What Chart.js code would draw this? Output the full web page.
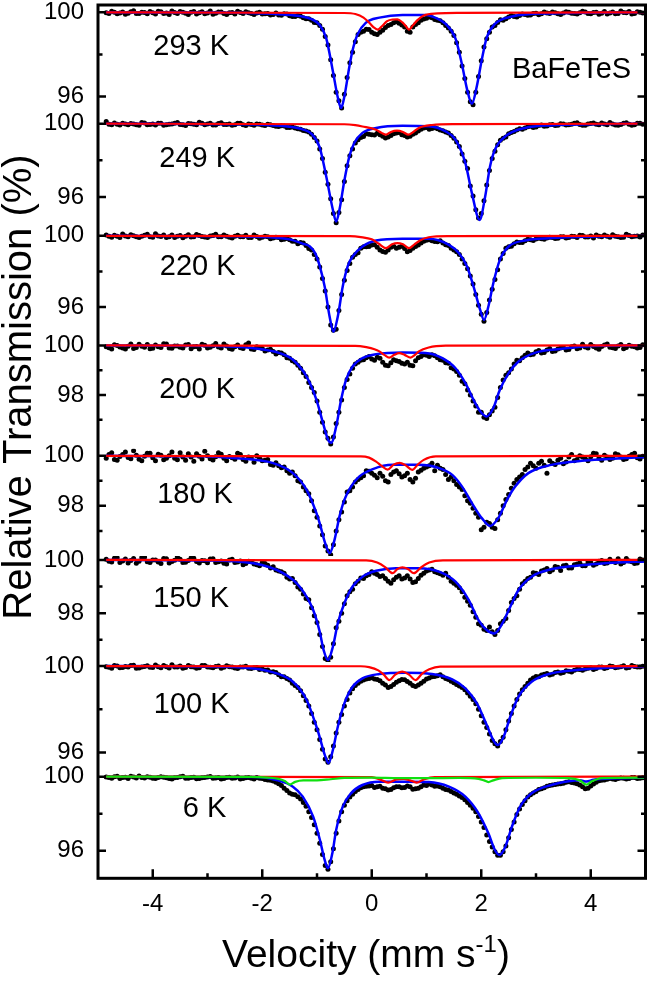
<!DOCTYPE html>
<html>
<head>
<meta charset="utf-8">
<script src="https://cdn.jsdelivr.net/npm/chart.js@4.4.1/dist/chart.umd.min.js"></script>
<style>
  html, body { margin: 0; padding: 0; background: #fff; }
  canvas { display: block; }
</style>
</head>
<body>
<canvas id="spectra" width="650" height="982"></canvas>
<script>
// Mossbauer spectra of BaFeTeS, stacked by temperature
// channels are read on two interleaved velocity grids
const velocity = [
  -4.85,-4.75,-4.65,-4.55,-4.45,-4.35,-4.25,-4.15,-4.05,-3.95,
  -3.85,-3.75,-3.65,-3.55,-3.45,-3.35,-3.25,-3.15,-3.05,-2.95,
  -2.85,-2.75,-2.65,-2.55,-2.45,-2.35,-2.25,-2.15,-2.05,-1.95,
  -1.85,-1.75,-1.65,-1.55,-1.45,-1.35,-1.25,-1.15,-1.05,-0.95,
  -0.85,-0.75,-0.65,-0.55,-0.45,-0.35,-0.25,-0.15,-0.05,0.05,
  0.15,0.25,0.35,0.45,0.55,0.65,0.75,0.85,0.95,1.05,
  1.15,1.25,1.35,1.45,1.55,1.65,1.75,1.85,1.95,2.05,
  2.15,2.25,2.35,2.45,2.55,2.65,2.75,2.85,2.95,3.05,
  3.15,3.25,3.35,3.45,3.55,3.65,3.75,3.85,3.95,4.05,
  4.15,4.25,4.35,4.45,4.55,4.65,4.75,4.85,4.95
];
const velocityMid = [
  -4.8,-4.7,-4.6,-4.5,-4.4,-4.3,-4.2,-4.1,-4.0,-3.9,
  -3.8,-3.7,-3.6,-3.5,-3.4,-3.3,-3.2,-3.1,-3.0,-2.9,
  -2.8,-2.7,-2.6,-2.5,-2.4,-2.3,-2.2,-2.1,-2.0,
  -1.9,-1.8,-1.7,-1.6,-1.5,-1.4,-1.3,-1.2,-1.1,-1.0,
  -0.9,-0.8,-0.7,-0.6,-0.5,-0.4,-0.3,-0.2,-0.1,0.0,
  0.1,0.2,0.3,0.4,0.5,0.6,0.7,0.8,0.9,1.0,
  1.1,1.2,1.3,1.4,1.5,1.6,1.7,1.8,1.9,2.0,
  2.1,2.2,2.3,2.4,2.5,2.6,2.7,2.8,2.9,3.0,
  3.1,3.2,3.3,3.4,3.5,3.6,3.7,3.8,3.9,4.0,
  4.1,4.2,4.3,4.4,4.5,4.6,4.7,4.8,4.9
];

const temperatures = ["293 K", "249 K", "220 K", "200 K", "180 K", "150 K", "100 K", "6 K"];
const xTickValues = [-4, -2, 0, 2, 4];

// measured transmission (%)
const trans293 = [
  99.98,100.05,99.93,100.02,99.96,100.08,99.95,99.99,100.04,99.92,
  100.03,99.97,100.06,99.94,100.01,99.9,100.04,99.98,99.93,100.07,
  99.96,100.02,99.9,99.99,100.05,99.94,99.98,99.9,100.01,99.93,
  99.88,99.97,99.86,99.92,99.8,99.85,99.74,99.7,99.52,99.38,
  98.85,97.75,96.2,95.45,96.9,98.1,98.95,99.1,99.18,98.98,
  99.05,99.28,99.42,99.55,99.4,99.1,99.3,99.5,99.68,99.78,
  99.66,99.6,99.38,99.1,98.55,97.45,96.2,95.6,96.95,98.35,
  99.05,99.38,99.65,99.7,99.85,99.78,99.92,99.86,99.95,99.89,
  100.02,99.94,99.98,99.9,100.03,99.96,99.92,100.05,99.95,99.99,
  99.91,100.04,99.97,99.93,100.06,99.98,99.92,100.03,99.97
];
const trans293Mid = [
  99.94,100.01,99.97,99.91,100.03,99.95,100.0,99.93,99.98,100.05,
  99.95,99.9,99.99,100.04,99.96,100.0,99.92,100.03,99.97,99.91,
  100.02,99.95,99.98,99.92,99.99,100.03,99.94,99.97,99.92,
  99.94,99.9,99.87,99.93,99.84,99.8,99.82,99.7,99.62,99.5,
  99.2,98.45,97.0,95.8,96.1,97.6,98.6,99.05,99.2,99.05,
  98.95,99.15,99.38,99.5,99.48,99.3,99.05,99.42,99.62,99.72,
  99.74,99.62,99.5,99.25,98.9,98.1,96.85,95.75,96.2,97.7,
  98.75,99.3,99.52,99.62,99.78,99.8,99.85,99.9,99.88,99.96,
  99.93,99.97,100.02,99.93,99.97,100.0,99.94,99.98,100.02,99.93,
  100.01,99.96,99.92,100.02,99.95,99.99,100.04,99.94,100.0
];
const trans249 = [
  100.12,99.95,99.97,100.03,99.94,99.99,99.92,100.04,99.96,99.93,
  100.02,99.95,99.99,100.06,99.94,100.01,99.97,100.08,99.95,100.02,
  99.93,100.05,99.96,99.91,100.03,99.95,99.99,99.92,99.97,99.9,
  99.95,99.86,99.89,99.8,99.82,99.72,99.63,99.55,99.25,98.62,
  97.35,95.9,94.6,95.85,97.7,98.62,99.12,99.3,99.42,99.38,
  99.4,99.22,99.35,99.5,99.4,99.28,99.42,99.6,99.76,99.7,
  99.78,99.66,99.55,99.35,99.0,98.35,97.55,96.05,94.85,95.8,
  97.45,98.5,99.1,99.28,99.52,99.66,99.7,99.84,99.8,99.9,
  99.86,99.95,99.9,100.0,99.93,99.97,100.05,99.92,99.98,100.04,
  99.94,99.99,100.07,99.93,99.96,100.05,99.91,100.02,99.97
];
const trans249Mid = [
  99.97,100.04,99.93,99.98,100.01,99.95,100.06,99.94,99.99,100.02,
  99.92,99.97,100.03,99.96,99.9,100.0,99.95,100.03,99.98,99.93,
  100.01,99.96,99.99,99.94,100.02,99.9,99.96,99.99,99.93,
  99.97,99.9,99.85,99.88,99.8,99.76,99.7,99.6,99.42,99.05,
  98.1,96.7,95.1,95.15,96.85,98.25,98.95,99.25,99.45,99.4,
  99.48,99.32,99.28,99.45,99.52,99.36,99.32,99.5,99.7,99.8,
  99.74,99.72,99.62,99.5,99.2,98.75,97.95,96.6,95.3,95.1,
  96.65,98.1,98.85,99.2,99.45,99.58,99.72,99.76,99.86,99.82,
  99.93,99.88,99.96,99.92,99.99,99.94,100.02,99.96,99.91,100.01,
  99.97,100.04,99.95,99.99,99.92,100.02,99.97,99.94,100.03
];
const trans220 = [
  100.05,99.92,99.97,100.1,99.94,100.0,99.9,100.03,99.95,100.12,
  99.96,99.91,100.04,99.98,99.89,100.06,99.95,100.02,99.93,99.99,
  100.08,99.94,99.97,99.88,100.03,99.95,99.9,100.05,99.86,99.97,
  99.84,99.92,99.78,99.85,99.7,99.55,99.6,99.28,98.95,98.25,
  96.9,95.0,94.75,96.7,98.05,98.8,99.05,99.38,99.4,99.5,
  99.2,99.08,99.35,99.3,99.42,99.1,99.3,99.48,99.7,99.78,
  99.68,99.72,99.5,99.3,99.1,98.7,98.15,97.3,96.1,95.2,
  96.4,97.55,98.7,99.3,99.42,99.65,99.62,99.8,99.74,99.86,
  99.8,99.92,99.85,99.95,99.88,99.98,99.9,100.02,99.93,99.87,
  99.97,100.05,99.92,99.98,99.9,100.08,99.95,99.99,100.04
];
const trans220Mid = [
  99.98,100.03,99.91,99.99,100.06,99.94,99.97,100.08,99.92,99.99,
  100.04,99.95,99.9,100.02,99.97,99.93,100.07,99.96,99.91,100.01,
  99.95,100.04,99.92,99.98,99.94,100.03,99.9,99.96,99.92,
  99.95,99.88,99.9,99.8,99.78,99.7,99.62,99.45,99.2,98.7,
  97.6,96.0,94.7,95.8,97.5,98.45,98.95,99.3,99.38,99.48,
  99.35,99.12,99.2,99.42,99.35,99.28,99.18,99.4,99.6,99.75,
  99.72,99.66,99.6,99.45,99.2,98.95,98.45,97.75,96.7,95.6,
  95.7,97.0,98.1,99.0,99.38,99.55,99.62,99.72,99.78,99.82,
  99.84,99.88,99.9,99.86,99.94,99.9,99.96,100.03,99.93,99.99,
  100.04,99.94,99.97,100.06,99.95,99.92,100.02,99.97,99.93
];
const trans200 = [
  99.95,99.86,100.0,99.9,99.97,99.88,100.05,99.93,99.87,100.02,
  99.92,100.06,99.89,99.98,99.9,100.04,99.95,99.86,100.01,99.93,
  100.08,99.9,99.98,99.85,100.02,99.88,100.1,99.84,99.92,99.78,
  99.85,99.66,99.7,99.5,99.38,99.2,98.9,98.5,98.1,97.3,
  96.5,96.02,96.85,97.8,98.62,99.08,99.32,99.42,99.55,99.4,
  99.48,99.2,99.3,99.38,99.28,99.32,99.18,99.5,99.62,99.55,
  99.58,99.42,99.3,99.1,98.95,98.55,98.2,97.75,97.3,97.1,
  97.2,97.5,98.3,98.8,99.05,99.4,99.5,99.7,99.65,99.8,
  99.72,99.88,99.78,99.9,99.82,99.95,99.87,100.05,99.9,99.96,
  99.85,100.02,99.93,99.88,100.04,99.92,99.97,99.9,100.03
];
const trans200Mid = [
  99.91,100.03,99.94,99.86,100.06,99.92,99.97,100.04,99.89,99.95,
  100.07,99.9,99.98,99.93,100.02,99.87,99.96,100.05,99.9,99.99,
  99.94,100.06,99.88,99.95,99.91,100.03,99.86,99.95,99.88,
  99.82,99.76,99.72,99.62,99.48,99.32,99.08,98.75,98.3,97.75,
  96.9,96.25,96.3,97.3,98.3,98.85,99.25,99.4,99.5,99.45,
  99.52,99.32,99.18,99.42,99.35,99.25,99.2,99.38,99.55,99.6,
  99.62,99.5,99.4,99.28,99.05,98.8,98.45,98.0,97.55,97.3,
  97.05,97.35,97.9,98.6,98.9,99.25,99.38,99.6,99.62,99.75,
  99.7,99.82,99.76,99.86,99.92,99.84,99.98,99.9,99.94,100.04,
  99.9,99.96,100.06,99.91,99.98,99.87,100.01,99.95,99.92
];
const trans180 = [
  99.9,100.12,99.82,100.05,99.93,100.2,99.86,99.98,100.1,99.8,
  100.02,99.9,100.15,99.84,99.95,100.08,99.78,99.98,100.18,99.88,
  99.96,100.06,99.8,99.92,100.1,99.85,99.95,99.74,99.9,99.82,
  99.65,99.72,99.52,99.4,99.35,99.0,98.75,98.48,97.8,97.2,
  96.4,96.05,97.0,97.75,98.55,98.75,99.05,99.2,99.38,99.22,
  99.3,99.0,99.25,99.4,99.15,99.3,98.95,99.35,99.5,99.6,
  99.4,99.5,99.25,99.15,98.85,98.65,98.2,97.9,97.55,97.15,
  97.3,97.1,97.7,98.25,98.7,99.05,99.25,99.55,99.6,99.7,
  99.62,99.8,99.65,99.9,99.75,100.05,99.85,99.95,99.8,100.1,
  99.9,100.02,99.85,100.08,99.95,99.88,100.05,99.92,99.98
];
const trans180Mid = [
  100.05,99.85,99.97,100.15,99.88,100.02,99.8,100.1,99.92,100.06,
  99.84,100.0,99.9,100.12,99.82,99.95,100.08,99.87,100.0,99.83,
  100.12,99.9,99.97,99.86,100.05,99.78,99.92,100.0,99.8,
  99.85,99.62,99.6,99.55,99.3,99.2,98.95,98.6,98.2,97.55,
  96.85,96.2,96.45,97.45,98.15,98.6,98.95,99.12,99.4,99.3,
  99.12,99.18,98.95,99.35,99.28,99.2,99.05,99.1,99.42,99.55,
  99.7,99.62,99.45,99.05,99.0,98.75,98.4,98.1,97.7,97.05,
  97.35,97.15,97.45,98.0,98.45,98.9,99.15,99.45,99.7,99.5,
  99.78,99.3,99.7,99.82,99.68,99.95,99.8,100.0,99.88,99.96,
  100.08,99.82,99.95,99.9,100.04,99.85,99.98,100.1,99.87
];
const trans150 = [
  100.02,99.92,100.08,99.96,99.88,100.05,99.95,100.1,99.9,100.0,
  99.86,100.04,99.94,100.12,99.9,99.98,100.06,99.88,99.97,100.03,
  99.9,99.96,99.85,100.02,99.92,99.82,99.95,99.85,99.78,99.86,
  99.7,99.62,99.55,99.35,99.3,98.98,98.72,98.5,97.9,97.2,
  96.3,96.35,97.45,98.0,98.65,98.9,99.2,99.3,99.45,99.5,
  99.38,99.3,99.12,99.35,99.28,99.4,99.15,99.3,99.5,99.62,
  99.55,99.48,99.5,99.2,99.05,98.8,98.45,98.05,97.6,97.4,
  97.48,97.2,97.6,97.8,98.4,98.65,99.1,99.3,99.52,99.45,
  99.62,99.55,99.75,99.6,99.8,99.7,99.85,99.78,99.92,99.8,
  99.95,99.86,100.02,99.9,99.85,100.05,99.93,99.88,100.0
];
const trans150Mid = [
  99.95,100.06,99.9,100.03,99.98,99.87,100.09,99.93,100.0,99.92,
  100.05,99.88,99.99,100.02,99.91,100.07,99.94,99.98,99.89,100.04,
  99.93,99.87,100.0,99.9,99.96,99.86,99.93,99.82,99.9,
  99.8,99.74,99.58,99.5,99.28,99.15,98.9,98.55,98.2,97.65,
  96.75,96.2,96.85,97.7,98.35,98.8,99.1,99.32,99.4,99.55,
  99.45,99.4,99.2,99.25,99.4,99.32,99.28,99.18,99.42,99.58,
  99.65,99.52,99.42,99.35,99.12,98.95,98.6,98.3,97.85,97.55,
  97.35,97.3,97.35,97.7,98.1,98.55,98.9,99.2,99.35,99.5,
  99.58,99.68,99.62,99.72,99.78,99.7,99.82,99.88,99.78,99.9,
  99.85,99.98,99.88,99.94,100.04,99.9,99.96,99.86,100.03
];
const trans100 = [
  99.97,99.9,100.0,99.93,99.96,100.04,99.91,99.98,99.94,100.05,
  99.92,99.97,100.06,99.95,99.9,100.02,99.96,99.92,100.03,99.94,
  99.98,99.9,100.01,99.95,99.88,99.96,99.9,99.92,99.84,99.8,
  99.72,99.7,99.5,99.42,99.2,99.0,98.62,98.15,97.4,96.6,
  95.7,95.8,96.9,97.75,98.45,98.95,99.2,99.35,99.42,99.4,
  99.32,99.12,99.05,99.25,99.38,99.28,99.1,99.12,99.3,99.45,
  99.52,99.6,99.42,99.3,99.15,99.0,98.75,98.45,98.0,97.4,
  96.85,96.4,96.5,97.05,97.8,98.45,98.9,99.2,99.45,99.5,
  99.62,99.58,99.7,99.66,99.78,99.72,99.85,99.8,99.9,99.84,
  99.95,99.88,100.0,99.92,99.97,99.91,100.03,99.95,99.99
];
const trans100Mid = [
  99.94,100.02,99.92,99.98,100.03,99.9,99.96,100.01,99.93,99.97,
  100.02,99.91,99.96,100.0,99.93,99.97,99.9,100.02,99.95,99.92,
  100.0,99.94,99.97,99.91,99.95,99.99,99.88,99.93,99.86,
  99.82,99.74,99.6,99.5,99.35,99.1,98.85,98.4,97.8,97.05,
  96.15,95.55,96.3,97.4,98.15,98.75,99.1,99.3,99.4,99.46,
  99.38,99.2,99.0,99.15,99.32,99.36,99.2,99.05,99.2,99.4,
  99.5,99.55,99.5,99.38,99.22,99.08,98.9,98.6,98.25,97.7,
  97.15,96.55,96.3,96.7,97.45,98.15,98.7,99.05,99.35,99.52,
  99.58,99.65,99.62,99.72,99.7,99.76,99.8,99.84,99.86,99.92,
  99.88,99.95,99.92,99.98,99.94,100.01,99.93,99.98,99.95
];
const trans6 = [
  99.98,99.92,100.02,99.95,99.9,99.98,100.03,99.93,99.97,99.9,
  100.0,99.94,99.88,99.96,100.02,99.92,99.97,99.9,99.95,100.01,
  99.93,99.88,99.96,99.91,99.98,99.9,99.95,99.88,99.92,99.85,
  99.8,99.7,99.52,99.25,99.05,98.92,98.6,98.1,97.4,96.4,
  95.2,95.4,96.95,98.1,98.7,99.05,99.3,99.45,99.5,99.42,
  99.48,99.35,99.3,99.45,99.4,99.5,99.32,99.38,99.55,99.6,
  99.48,99.45,99.3,99.2,99.05,98.88,98.6,98.3,97.85,97.25,
  96.5,95.95,95.75,96.25,97.15,97.95,98.5,98.9,99.12,99.3,
  99.4,99.52,99.58,99.62,99.7,99.68,99.62,99.45,99.38,99.6,
  99.78,99.82,99.9,99.85,99.93,99.88,99.96,99.9,99.94
];
const trans6Mid = [
  99.95,100.0,99.9,99.97,100.02,99.93,99.96,99.99,99.91,99.95,
  99.97,99.9,99.94,100.0,99.92,99.96,99.89,99.94,99.98,99.91,
  99.95,99.9,99.97,99.93,99.88,99.94,99.91,99.95,99.9,
  99.82,99.76,99.62,99.38,99.12,99.02,98.8,98.4,97.8,96.95,
  95.8,95.0,96.1,97.6,98.45,98.9,99.2,99.4,99.48,99.52,
  99.45,99.38,99.28,99.4,99.46,99.42,99.45,99.35,99.45,99.52,
  99.55,99.5,99.38,99.28,99.12,98.95,98.75,98.45,98.1,97.55,
  96.85,96.2,95.75,95.95,96.7,97.55,98.25,98.7,99.02,99.2,
  99.35,99.48,99.55,99.6,99.65,99.72,99.66,99.55,99.35,99.5,
  99.7,99.8,99.86,99.88,99.9,99.92,99.9,99.95,99.92
];

// main doublet fit (blue)
const mainX293 = [-4.85,-3.0,-2.1,-1.6,-1.3,-1.1,-0.95,-0.83,-0.71,-0.62,-0.56,-0.5,-0.41,-0.35,-0.26,-0.11,0.14,0.56,0.98,1.2,1.35,1.53,1.65,1.74,1.83,1.92,2.01,2.1,2.25,2.56,3.28,5.0];
const mainY293 = [100,99.99,99.96,99.9,99.82,99.68,99.4,98.75,97.2,95.95,95.45,96.0,97.4,98.2,98.95,99.5,99.75,99.88,99.87,99.7,99.45,98.75,97.5,96.35,95.65,96.5,97.75,98.8,99.45,99.8,99.95,100];
const mainX249 = [-4.85,-2.5,-1.9,-1.5,-1.25,-1.1,-0.95,-0.83,-0.71,-0.65,-0.59,-0.5,-0.41,-0.32,-0.17,0.08,0.56,1.04,1.35,1.53,1.71,1.83,1.97,2.07,2.16,2.25,2.44,2.8,3.3,4.0,5.0];
const mainY249 = [100,99.97,99.93,99.83,99.68,99.45,98.7,97.1,95.3,94.66,95.3,96.9,98.2,98.95,99.5,99.77,99.89,99.86,99.58,99.13,97.85,96.2,94.75,96.0,97.67,98.58,99.31,99.77,99.92,99.97,100];
const mainX220 = [-4.85,-2.5,-1.9,-1.5,-1.25,-1.13,-1.03,-0.95,-0.86,-0.77,-0.7,-0.62,-0.53,-0.44,-0.35,-0.17,0.08,0.56,1.04,1.41,1.59,1.74,1.86,1.98,2.05,2.13,2.22,2.34,2.5,2.8,3.28,4.0,5.0];
const mainY220 = [100,99.97,99.93,99.8,99.55,99.4,99.0,98.3,97.15,95.47,94.62,95.47,97.15,98.28,98.84,99.4,99.74,99.83,99.83,99.49,99.03,98.28,97.15,95.84,95.28,96.03,97.34,98.65,99.4,99.74,99.87,99.95,100];
const mainX200 = [-4.85,-2.9,-2.16,-1.68,-1.44,-1.19,-1.01,-0.89,-0.8,-0.74,-0.65,-0.56,-0.47,-0.35,-0.17,0.08,0.56,0.98,1.29,1.53,1.71,1.89,2.01,2.1,2.22,2.34,2.5,2.68,2.98,3.4,3.89,5.0];
const mainY200 = [100,99.98,99.89,99.69,99.42,98.74,97.8,96.86,96.2,96.07,96.72,97.8,98.61,99.15,99.49,99.65,99.72,99.7,99.49,99.08,98.48,97.67,97.26,97.13,97.47,98.21,98.88,99.35,99.7,99.85,99.96,100];
const mainX180 = [-4.85,-3.13,-2.53,-1.8,-1.44,-1.19,-1.01,-0.95,-0.85,-0.77,-0.68,-0.59,-0.5,-0.38,-0.23,0.02,0.38,0.86,1.23,1.47,1.65,1.83,2.01,2.16,2.31,2.47,2.62,2.86,3.28,3.89,4.49,5.0];
const mainY180 = [100,99.98,99.91,99.71,99.31,98.64,97.71,97.3,96.5,96.11,96.64,97.57,98.24,98.77,99.17,99.47,99.64,99.64,99.51,99.24,98.77,98.11,97.51,97.2,97.51,98.24,98.77,99.31,99.64,99.81,99.89,99.95];
const mainX150 = [-4.85,-3.1,-2.16,-1.62,-1.32,-1.07,-0.95,-0.88,-0.8,-0.71,-0.62,-0.5,-0.35,-0.17,0.08,0.44,0.86,1.23,1.53,1.77,1.95,2.1,2.24,2.37,2.53,2.68,2.92,3.28,3.89,4.49,5.0];
const mainY150 = [100,99.98,99.87,99.5,99.0,98.12,97.3,96.62,96.24,96.74,97.62,98.37,99.0,99.37,99.59,99.69,99.69,99.56,99.18,98.5,97.74,97.37,97.24,97.56,98.24,98.87,99.37,99.65,99.81,99.9,99.94];
const mainX100 = [-4.85,-3.13,-2.16,-1.74,-1.44,-1.19,-1.01,-0.95,-0.86,-0.79,-0.71,-0.62,-0.5,-0.35,-0.17,0.14,0.62,1.1,1.47,1.71,1.92,2.1,2.22,2.3,2.41,2.53,2.68,2.92,3.28,3.89,4.49,5.0];
const mainY100 = [100,99.98,99.89,99.66,99.27,98.43,97.19,96.7,95.9,95.5,96.11,97.19,98.27,99.04,99.43,99.63,99.69,99.63,99.38,98.97,98.27,97.27,96.57,96.34,96.73,97.65,98.58,99.27,99.66,99.85,99.94,99.97];
const mainX6 = [-4.85,-2.1,-1.74,-1.44,-1.26,-1.07,-0.95,-0.86,-0.8,-0.72,-0.65,-0.53,-0.38,-0.17,0.14,0.62,1.04,1.41,1.71,1.95,2.13,2.25,2.33,2.44,2.56,2.71,2.92,3.28,3.6,3.8,3.92,4.05,4.49,5.0];
const mainY6 = [100,99.98,99.82,99.46,98.92,97.84,96.62,95.5,95.05,95.86,97.12,98.38,99.1,99.55,99.73,99.73,99.71,99.46,98.92,98.02,96.94,96.04,95.77,96.22,97.3,98.38,99.1,99.55,99.75,99.8,99.74,99.83,99.91,99.96];

// minor doublet fit (red)
const subX293 = [-4.85,-0.5,-0.3,-0.15,-0.05,0.03,0.11,0.19,0.28,0.38,0.47,0.56,0.62,0.68,0.75,0.83,0.95,1.2,1.6,5.0];
const subY293 = [100,99.97,99.92,99.75,99.52,99.3,99.18,99.35,99.58,99.66,99.67,99.52,99.35,99.18,99.38,99.62,99.85,99.95,99.98,100];
const subX249 = [-4.85,-0.5,-0.3,-0.17,0.08,0.18,0.26,0.35,0.46,0.57,0.67,0.76,0.86,1.1,1.5,5.0];
const subY249 = [100,99.97,99.92,99.85,99.67,99.5,99.4,99.55,99.62,99.55,99.4,99.55,99.77,99.93,99.98,100];
const subX220 = [-4.85,-0.4,-0.2,0.0,0.13,0.26,0.37,0.47,0.57,0.68,0.78,0.88,1.04,1.4,5.0];
const subY220 = [100,99.98,99.93,99.8,99.55,99.31,99.52,99.59,99.52,99.31,99.52,99.74,99.92,99.98,100];
const subX200 = [-4.85,-0.3,-0.1,0.05,0.14,0.23,0.32,0.41,0.5,0.6,0.71,0.79,0.86,1.04,1.35,5.0];
const subY200 = [100,99.98,99.93,99.85,99.76,99.62,99.51,99.62,99.69,99.62,99.51,99.62,99.76,99.92,99.99,100];
const subX180 = [-4.85,-0.2,-0.05,0.08,0.18,0.29,0.4,0.51,0.62,0.74,0.84,0.95,1.17,5.0];
const subY180 = [100,99.98,99.93,99.77,99.6,99.45,99.65,99.72,99.62,99.44,99.65,99.84,99.98,100];
const subX150 = [-4.85,-0.1,0.1,0.25,0.38,0.47,0.56,0.66,0.77,0.9,1.05,1.3,5.0];
const subY150 = [100,99.98,99.9,99.72,99.5,99.66,99.72,99.66,99.5,99.72,99.9,99.98,100];
const subX100 = [-4.85,-0.2,-0.05,0.12,0.22,0.32,0.43,0.56,0.68,0.8,0.92,1.05,1.25,5.0];
const subY100 = [100,99.99,99.95,99.8,99.6,99.35,99.6,99.74,99.6,99.35,99.65,99.85,99.97,100];
const subX6 = [-4.85,0.0,0.15,0.3,0.45,0.58,0.7,0.82,0.95,1.15,5.0];
const subY6 = [100,99.98,99.85,99.68,99.85,99.88,99.8,99.68,99.85,99.97,100];

// magnetic sextet at 6 K (green)
const sextetX6 = [-4.85,-2.2,-1.9,-1.7,-1.58,-1.5,-1.4,-1.25,-1.0,-0.75,-0.5,0.0,0.5,1.0,1.6,1.95,2.05,2.13,2.22,2.38,3.0,3.6,3.8,3.92,4.02,4.2,5.0];
const sextetY6 = [100,99.99,99.95,99.88,99.75,99.57,99.72,99.8,99.8,99.86,99.93,99.95,99.92,99.92,99.93,99.88,99.8,99.71,99.8,99.92,99.94,99.92,99.8,99.57,99.75,99.92,99.95];

// axis ranges per panel (top to bottom)
const panelMin = [95.13, 94.32, 94.33, 95.82, 96.0, 96.17, 95.28, 94.51];
const panelMax = [100.35, 100.49, 100.45, 100.35, 100.28, 100.15, 100.19, 100.47];
const panelHeight = [109.7, 113, 109, 112, 107, 106, 106, 110.3];
const wideTicks = [96, 98, 100];
const narrowTicks = [97, 98, 99, 100];

// where the temperature labels sit (velocity, transmission)
const labelAt = [[-3.99, 97.99], [-3.88, 97.65], [-3.87, 97.81], [-3.88, 97.88],
                 [-3.92, 98.12], [-3.99, 98.23], [-3.98, 97.82], [-3.45, 97.82]];

const FONT = "'Liberation Sans', Arial, Helvetica, sans-serif";
Chart.defaults.font.family = FONT;
Chart.defaults.color = "#000";

function points(xs, ys) {
  return xs.map((x, i) => ({ x: x, y: ys[i] }));
}

const panels = [
  { trans: trans293, mid: trans293Mid, mx: mainX293, my: mainY293, sx: subX293, sy: subY293 },
  { trans: trans249, mid: trans249Mid, mx: mainX249, my: mainY249, sx: subX249, sy: subY249 },
  { trans: trans220, mid: trans220Mid, mx: mainX220, my: mainY220, sx: subX220, sy: subY220 },
  { trans: trans200, mid: trans200Mid, mx: mainX200, my: mainY200, sx: subX200, sy: subY200 },
  { trans: trans180, mid: trans180Mid, mx: mainX180, my: mainY180, sx: subX180, sy: subY180 },
  { trans: trans150, mid: trans150Mid, mx: mainX150, my: mainY150, sx: subX150, sy: subY150 },
  { trans: trans100, mid: trans100Mid, mx: mainX100, my: mainY100, sx: subX100, sy: subY100 },
  { trans: trans6, mid: trans6Mid, mx: mainX6, my: mainY6, sx: subX6, sy: subY6 },
];

const datasets = [];
const scales = {
  x: {
    type: "linear",
    position: "bottom",
    min: -5,
    max: 5,
    afterBuildTicks: (s) => { s.ticks = xTickValues.map((v) => ({ value: v })); },
    ticks: { font: { size: 24 }, color: "#000", padding: 12, maxRotation: 0, autoSkip: false,
             callback: (v) => String(v) },
    grid: { display: false, drawTicks: false },
    border: { display: false },
    afterFit: (s) => { s.height = 103.7; s.paddingLeft = 0; s.paddingRight = 0; },
  },
};

panels.forEach((p, i) => {
  const id = "y" + i;
  const narrow = i >= 3 && i <= 5;
  const tickList = narrow ? narrowTicks : wideTicks;
  scales[id] = {
    type: "linear",
    position: "left",
    stack: "panels",
    stackWeight: panelHeight[i],
    weight: 8 - i,
    min: panelMin[i],
    max: panelMax[i],
    bounds: "data",
    afterBuildTicks: (s) => { s.ticks = tickList.map((v) => ({ value: v })); },
    ticks: {
      font: { size: 24 },
      color: "#000",
      padding: 14,
      autoSkip: false,
      callback: (v) => (narrow ? (v % 2 === 0 ? String(v) : "") : (v % 4 === 0 ? String(v) : "")),
    },
    grid: { display: false, drawTicks: false },
    border: { display: false },
    // keep the tick labels from pushing the plot area down
    afterFit: (s) => { s.width = 98; s.paddingTop = 0; s.paddingBottom = 0; },
  };

  datasets.push({
    label: temperatures[i] + " data",
    data: points(velocity, p.trans).concat(points(velocityMid, p.mid)),
    yAxisID: id,
    showLine: false,
    pointRadius: 2.5,
    pointBorderWidth: 0,
    pointBackgroundColor: "#000",
    order: 4,
  });
  datasets.push({
    label: temperatures[i] + " main",
    data: points(p.mx, p.my),
    yAxisID: id,
    borderColor: "#0000ff",
    borderWidth: 2.5,
    pointRadius: 0,
    cubicInterpolationMode: "monotone",
    order: 3,
  });
  datasets.push({
    label: temperatures[i] + " minor",
    data: points(p.sx, p.sy),
    yAxisID: id,
    borderColor: "#ff0000",
    borderWidth: 2.2,
    pointRadius: 0,
    cubicInterpolationMode: "monotone",
    order: 2,
  });
});

datasets.push({
  label: "6 K sextet",
  data: points(sextetX6, sextetY6),
  yAxisID: "y7",
  borderColor: "#10e010",
  borderWidth: 2.2,
  pointRadius: 0,
  cubicInterpolationMode: "monotone",
  order: 1,
});

// frame, inward ticks, labels and titles
const decorations = {
  id: "decorations",
  afterDraw(chart) {
    const { ctx, chartArea: a } = chart;
    const sx = chart.scales.x;
    ctx.save();
    ctx.strokeStyle = "#000";
    ctx.lineWidth = 2.5;
    ctx.beginPath();
    for (let i = 0; i < 8; i++) {
      const s = chart.scales["y" + i];
      s.ticks.forEach((t) => {
        const y = s.getPixelForValue(t.value);
        const len = t.label ? 8 : 4.5;
        ctx.moveTo(a.left, y);
        ctx.lineTo(a.left + len, y);
        ctx.moveTo(a.right, y);
        ctx.lineTo(a.right - len, y);
      });
    }
    for (let v = -4; v <= 4; v++) {
      const x = sx.getPixelForValue(v);
      const len = v % 2 === 0 ? 9 : 5;
      ctx.moveTo(x, a.bottom);
      ctx.lineTo(x, a.bottom - len);
    }
    ctx.stroke();

    ctx.lineWidth = 3;
    ctx.strokeRect(a.left, a.top, a.right - a.left, a.bottom - a.top);

    ctx.fillStyle = "#000";
    ctx.textBaseline = "alphabetic";
    ctx.textAlign = "left";
    ctx.font = "29px " + FONT;
    temperatures.forEach((t, i) => {
      const s = chart.scales["y" + i];
      ctx.fillText(t, sx.getPixelForValue(labelAt[i][0]), s.getPixelForValue(labelAt[i][1]));
    });
    ctx.fillText("BaFeTeS", sx.getPixelForValue(2.56), chart.scales.y0.getPixelForValue(96.88));

    // y title
    ctx.save();
    ctx.font = "40px " + FONT;
    ctx.translate(31, 387);
    ctx.rotate(-Math.PI / 2);
    ctx.textAlign = "center";
    ctx.fillText("Relative Transmission (%)", 0, 0);
    ctx.restore();

    // x title with superscript
    const main = "Velocity (mm s";
    const sup = "-1";
    const tail = ")";
    ctx.font = "39px " + FONT;
    const w1 = ctx.measureText(main).width;
    const w3 = ctx.measureText(tail).width;
    ctx.font = "24px " + FONT;
    const w2 = ctx.measureText(sup).width;
    let x = 366 - (w1 + w2 + w3) / 2;
    const base = 967;
    ctx.font = "39px " + FONT;
    ctx.fillText(main, x, base);
    x += w1;
    ctx.font = "24px " + FONT;
    ctx.fillText(sup, x, base - 15);
    x += w2;
    ctx.font = "39px " + FONT;
    ctx.fillText(tail, x, base);
    ctx.restore();
  },
};

new Chart(document.getElementById("spectra"), {
  type: "line",
  data: { datasets: datasets },
  options: {
    responsive: false,
    animation: false,
    devicePixelRatio: 1,
    layout: { padding: { top: 5, right: 4.5, left: 0, bottom: 0 } },
    plugins: { legend: { display: false }, tooltip: { enabled: false } },
    scales: scales,
  },
  plugins: [decorations],
});
</script>
</body>
</html>
